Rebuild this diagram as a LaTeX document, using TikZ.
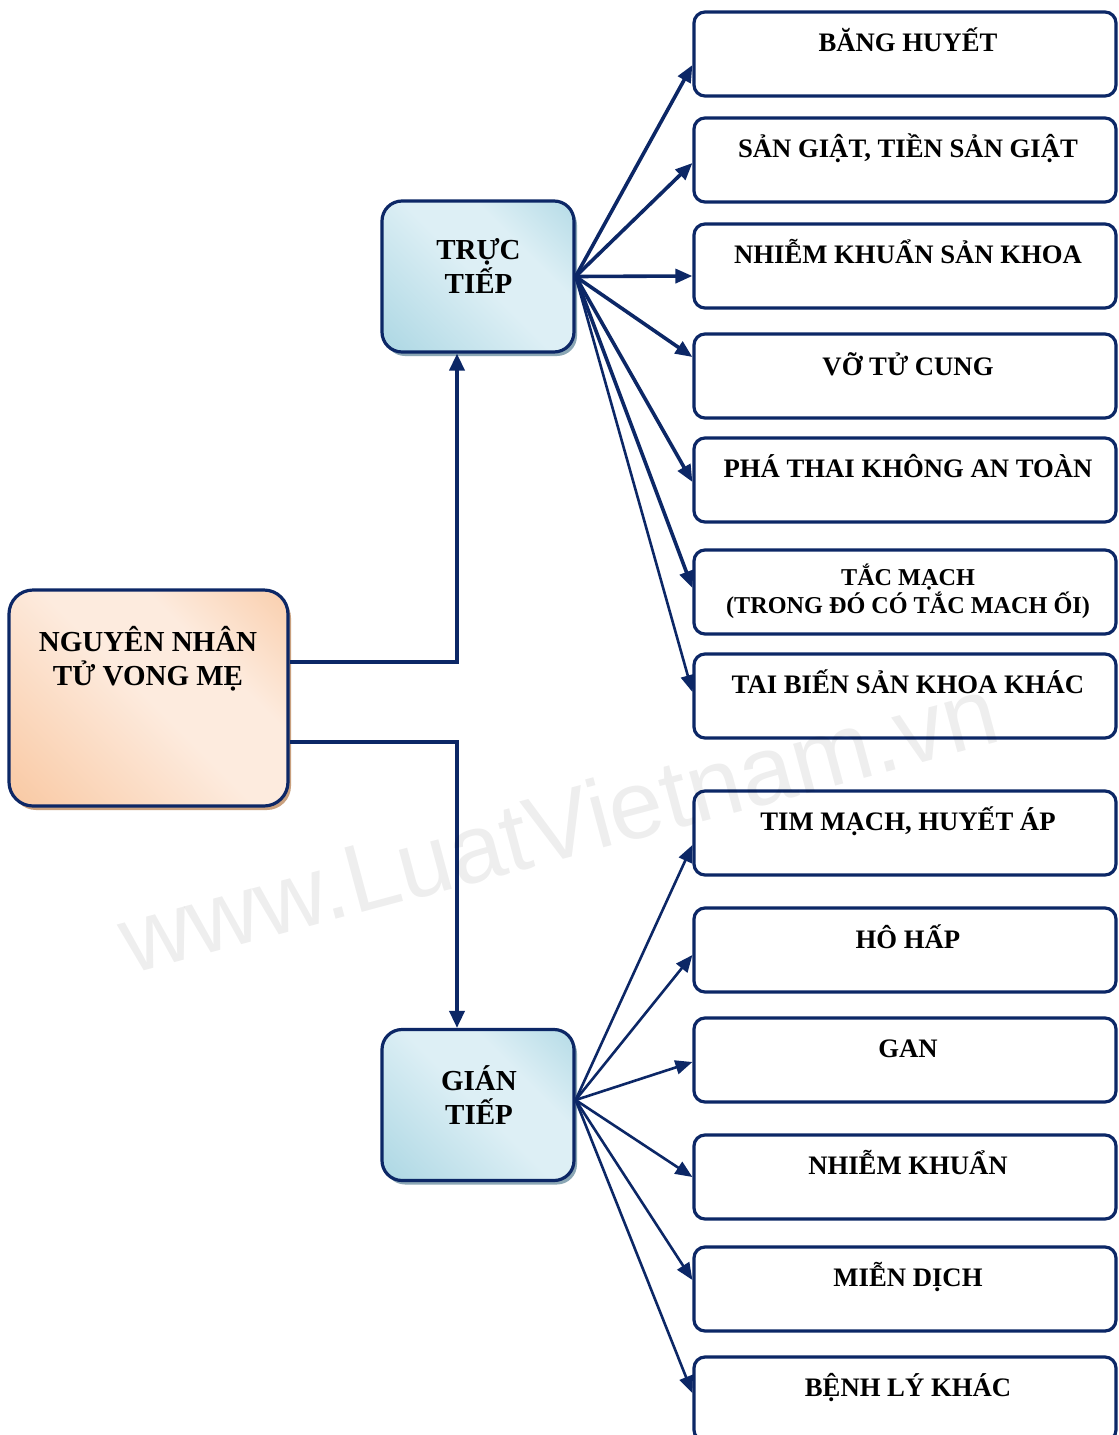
\documentclass[tikz,border=0pt]{standalone}
\usepackage{fontspec}
\setmainfont{Liberation Serif}
\newfontfamily\wmfont{Liberation Sans}
\usetikzlibrary{arrows.meta,shadows,calc}

\definecolor{navy}{HTML}{0C2766}
\definecolor{peachdeep}{HTML}{F7BA8A}
\definecolor{peachpale}{HTML}{FDEBDE}
\definecolor{bluedeep}{HTML}{98CDDC}
\definecolor{bluepale}{HTML}{DDEFF5}
\definecolor{peachshadow}{HTML}{C9A07E}
\definecolor{blueshadow}{HTML}{8BA7B5}

\pgfdeclarehorizontalshading{peachband}{100bp}{color(0bp)=(peachdeep); color(50bp)=(peachpale); color(65bp)=(peachpale); color(100bp)=(peachdeep)}
\pgfdeclarehorizontalshading{blueband}{100bp}{color(0bp)=(bluedeep); color(50bp)=(bluepale); color(65bp)=(bluepale); color(100bp)=(bluedeep)}

\tikzset{
  rootbox/.style={draw=navy, line width=3.2pt, rounded corners=24pt,
    minimum width=279pt, minimum height=216pt, inner sep=0pt,
    shading=peachband, shading angle=45,
    general shadow={shadow xshift=3pt, shadow yshift=-4pt, fill=peachshadow}},
  groupbox/.style={draw=navy, line width=3.2pt, rounded corners=20pt,
    minimum width=192pt, minimum height=151pt, inner sep=0pt,
    shading=blueband, shading angle=45,
    general shadow={shadow xshift=3pt, shadow yshift=-4pt, fill=blueshadow}},
  leafbox/.style={draw=navy, line width=3.2pt, rounded corners=11pt,
    minimum width=422pt, minimum height=84pt, inner sep=0pt, fill=white},
  bigtext/.style={font=\fontsize{29}{34}\selectfont\bfseries, align=center, inner sep=0pt},
  leaftext/.style={font=\fontsize{26.7}{30}\selectfont\bfseries, anchor=base, inner sep=0pt},
  trunk/.style={draw=navy, line width=3.6pt, -{Triangle[length=17pt,width=15pt]}},
  spoke/.style={draw=navy, line width=3.6pt, -{Triangle[length=17pt,width=14pt]}},
  thinspoke/.style={draw=navy, line width=2.6pt, -{Triangle[length=17pt,width=14pt]}},
}

\begin{document}
\begin{tikzpicture}[x=1pt,y=-1pt]
\useasboundingbox (0,0) rectangle (1119,1435);
\clip (0,0) rectangle (1119,1435);
\fill[white] (0,0) rectangle (1119,1435);

% left root and the two groups
\node[rootbox] (root) at (148.5,698) {};
\node[groupbox] (direct) at (478,276.5) {};
\node[groupbox] (indirect) at (478,1105) {};

% right column of causes
\node[leafbox] (b1) at (905,54) {};
\node[leafbox] (b2) at (905,160) {};
\node[leafbox] (b3) at (905,266) {};
\node[leafbox] (b4) at (905,376) {};
\node[leafbox] (b5) at (905,480) {};
\node[leafbox] (b6) at (905,592) {};
\node[leafbox] (b7) at (905,696) {};
\node[leafbox] (b8) at (905,833) {};
\node[leafbox] (b9) at (905,950) {};
\node[leafbox] (b10) at (905,1060) {};
\node[leafbox] (b11) at (905,1177) {};
\node[leafbox] (b12) at (905,1289) {};
\node[leafbox] (b13) at (905,1399) {};

% root to groups
\draw[trunk] ($(root.east)+(0,-36)$) -| ($(direct.south)+(-21,0)$);
\draw[trunk] ($(root.east)+(0,44)$) -| ($(indirect.north)+(-21,0)$);

% direct causes
\coordinate (dsrc) at (direct.east);
\draw[spoke] (dsrc) -- ($(b1.west)+(0,11)$);
\draw[spoke] (dsrc) -- ($(b2.west)+(0,3)$);
\draw[spoke] (dsrc) -- ($(b3.west)+(0,10)$);
\draw[spoke] (dsrc) -- ($(b4.west)+(0,-19)$);
\draw[spoke] (dsrc) -- ($(b5.west)+(0,2)$);
\draw[spoke] (dsrc) -- ($(b6.west)+(0,-4)$);
\draw[thinspoke] (dsrc) -- ($(b7.west)+(0,-4)$);

% indirect causes
\coordinate (isrc) at ($(indirect.east)+(0,-5)$);
\draw[thinspoke] (isrc) -- ($(b8.west)+(0,12)$);
\draw[thinspoke] (isrc) -- ($(b9.west)+(0,5)$);
\draw[thinspoke] (isrc) -- ($(b10.west)+(0,2)$);
\draw[thinspoke] (isrc) -- ($(b11.west)+(0,0)$);
\draw[thinspoke] (isrc) -- ($(b12.west)+(0,-9)$);
\draw[thinspoke] (isrc) -- ($(b13.west)+(0,-6)$);

% labels
\node[bigtext] (root-t) at (148,658.5) {NGUYÊN NHÂN\\TỬ VONG MẸ};
\node[bigtext] (direct-t) at (478.5,266) {TRỰC\\TIẾP};
\node[bigtext] (indirect-t) at (479,1095.5) {GIÁN\\TIẾP};

\node[leaftext] (t1) at (908,51) {BĂNG HUYẾT};
\node[leaftext] (t2) at (908,157) {SẢN GIẬT, TIỀN SẢN GIẬT};
\node[leaftext] (t3) at (908,263) {NHIỄM KHUẨN SẢN KHOA};
\node[leaftext] (t4) at (908,375) {VỠ TỬ CUNG};
\node[leaftext] (t5) at (908,477) {PHÁ THAI KHÔNG AN TOÀN};
\node[font=\fontsize{24.2}{28}\selectfont\bfseries, align=center, inner sep=0pt] (t6) at (908,591) {TẮC MẠCH\\(TRONG ĐÓ CÓ TẮC MACH ỐI)};
\node[leaftext] (t7) at (908,693) {TAI BIẾN SẢN KHOA KHÁC};
\node[leaftext] (t8) at (908,830) {TIM MẠCH, HUYẾT ÁP};
\node[leaftext] (t9) at (908,948) {HÔ HẤP};
\node[leaftext] (t10) at (908,1057) {GAN};
\node[leaftext] (t11) at (908,1174) {NHIỄM KHUẨN};
\node[leaftext] (t12) at (908,1286) {MIỄN DỊCH};
\node[leaftext] (t13) at (908,1396) {BỆNH LÝ KHÁC};

% faint diagonal site mark
\node[font=\wmfont\fontsize{97}{97}\selectfont, text=black, text opacity=0.065,
      rotate=15, anchor=base west, inner sep=0pt] (mark) at (130,975) {www.LuatVietnam.vn};
\end{tikzpicture}
\end{document}
